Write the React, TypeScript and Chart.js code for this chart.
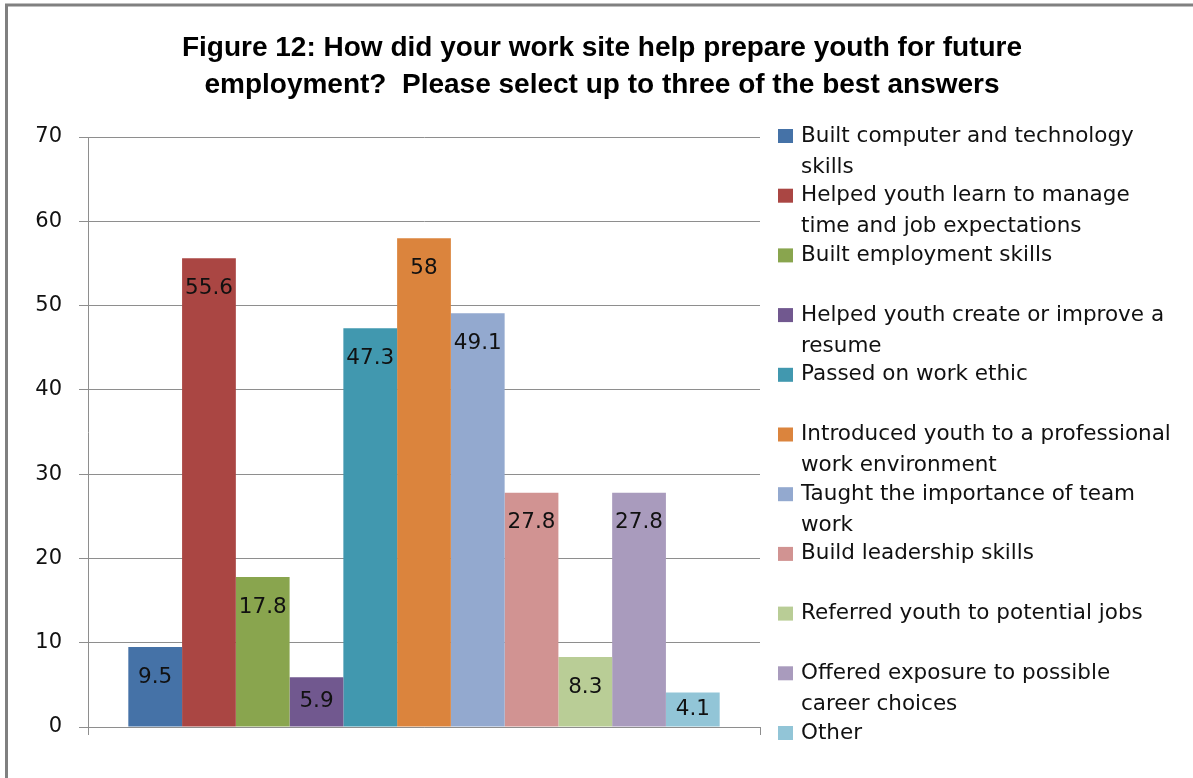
import { useEffect, useRef } from "react";
import { Chart, registerables } from "chart.js";

Chart.register(...registerables);

const TITLE_LINES = [
  "Figure 12: How did your work site help prepare youth for future",
  "employment?  Please select up to three of the best answers",
];

const CATEGORIES = [""];

const SERIES_LABELS = [
  "Built computer and technology\nskills",
  "Helped youth learn to manage\ntime and job expectations",
  "Built employment skills",
  "Helped youth create or improve a\nresume",
  "Passed on work ethic",
  "Introduced youth to a professional\nwork environment",
  "Taught the importance of team\nwork",
  "Build leadership skills",
  "Referred youth to potential jobs",
  "Offered exposure to possible\ncareer choices",
  "Other",
];

const SERIES_VALUES = [9.5, 55.6, 17.8, 5.9, 47.3, 58, 49.1, 27.8, 8.3, 27.8, 4.1];

const SERIES_COLORS = [
  "#4572A7",
  "#AA4643",
  "#89A54E",
  "#71588F",
  "#4198AF",
  "#DB843D",
  "#93A9CF",
  "#D19392",
  "#B9CD96",
  "#A99BBD",
  "#92C5D7",
];

const Y_MIN = 0;
const Y_MAX = 70;
const Y_STEP = 10;

const BODY_FONT = "'DejaVu Sans', Verdana, sans-serif";
const TITLE_FONT = "'Liberation Sans', Arial, sans-serif";
const GRID = "#8E8E8E";

const decorPlugin = {
  id: "decor",
  beforeDraw(chart: any) {
    const ctx = chart.ctx;
    ctx.save();
    ctx.fillStyle = "#ffffff";
    ctx.fillRect(0, 0, chart.width, chart.height);
    ctx.strokeStyle = "#808080";
    ctx.lineWidth = 3;
    ctx.strokeRect(6.5, 5, chart.width + 20, chart.height + 20);
    ctx.restore();
  },
  afterDraw(chart: any) {
    const ctx = chart.ctx;
    ctx.save();
    // title
    ctx.fillStyle = "#000000";
    ctx.font = `bold 28px ${TITLE_FONT}`;
    ctx.textAlign = "center";
    ctx.textBaseline = "middle";
    TITLE_LINES.forEach((line, i) => {
      ctx.fillText(line, 602, 48 + i * 37);
    });
    // legend
    ctx.font = `21.5px ${BODY_FONT}`;
    ctx.textAlign = "left";
    ctx.textBaseline = "middle";
    chart.data.datasets.forEach((ds: any, i: number) => {
      const y = 136 + i * 59.7;
      ctx.fillStyle = ds.backgroundColor;
      ctx.fillRect(778, y - 7, 15, 14);
      ctx.fillStyle = "#111111";
      String(ds.label)
        .split("\n")
        .forEach((line: string, j: number) => {
          ctx.fillText(line, 801, y + j * 31);
        });
    });
    ctx.restore();
  },
  afterDatasetsDraw(chart: any) {
    const ctx = chart.ctx;
    ctx.save();
    ctx.font = `21.5px ${BODY_FONT}`;
    ctx.fillStyle = "#111111";
    ctx.textAlign = "center";
    ctx.textBaseline = "middle";
    chart.data.datasets.forEach((ds: any, i: number) => {
      const meta = chart.getDatasetMeta(i);
      meta.data.forEach((el: any, j: number) => {
        const v = ds.data[j];
        const ly = Math.min(el.y + 30, (el.y + el.base) / 2);
        ctx.fillText(String(v), el.x, ly);
      });
    });
    ctx.restore();
  },
};

export default function App() {
  const ref = useRef<HTMLCanvasElement | null>(null);

  useEffect(() => {
    document.body.style.margin = "0";
    if (!ref.current) return;
    const chart = new Chart(ref.current, {
      type: "bar",
      data: {
        labels: CATEGORIES,
        datasets: SERIES_LABELS.map((label, i) => ({
          label,
          data: [SERIES_VALUES[i]],
          backgroundColor: SERIES_COLORS[i],
          borderWidth: 0,
          categoryPercentage: 0.88,
          barPercentage: 1,
        })),
      },
      options: {
        responsive: false,
        animation: false,
        layout: { padding: { top: 137, right: 433, left: 0, bottom: 0 } },
        plugins: {
          legend: { display: false },
          title: { display: false },
          tooltip: { enabled: false },
        },
        scales: {
          x: {
            afterFit: (scale: any) => {
              scale.height = 51;
            },
            grid: {
              display: true,
              drawOnChartArea: false,
              drawTicks: true,
              tickLength: 8,
              color: GRID,
              offset: true,
            },
            border: { display: true, color: GRID, width: 1 },
            ticks: { display: false },
          },
          y: {
            min: Y_MIN,
            max: Y_MAX,
            afterFit: (scale: any) => {
              scale.width = 88;
            },
            ticks: {
              stepSize: Y_STEP,
              padding: 17,
              color: "#111111",
              font: { family: BODY_FONT, size: 21 },
            },
            grid: {
              color: GRID,
              tickLength: 9,
              lineWidth: 1,
            },
            border: { display: true, color: GRID, width: 1 },
          },
        },
      },
      plugins: [decorPlugin],
    });
    return () => chart.destroy();
  }, []);

  return <canvas ref={ref} width={1193} height={778} style={{ display: "block" }} />;
}
